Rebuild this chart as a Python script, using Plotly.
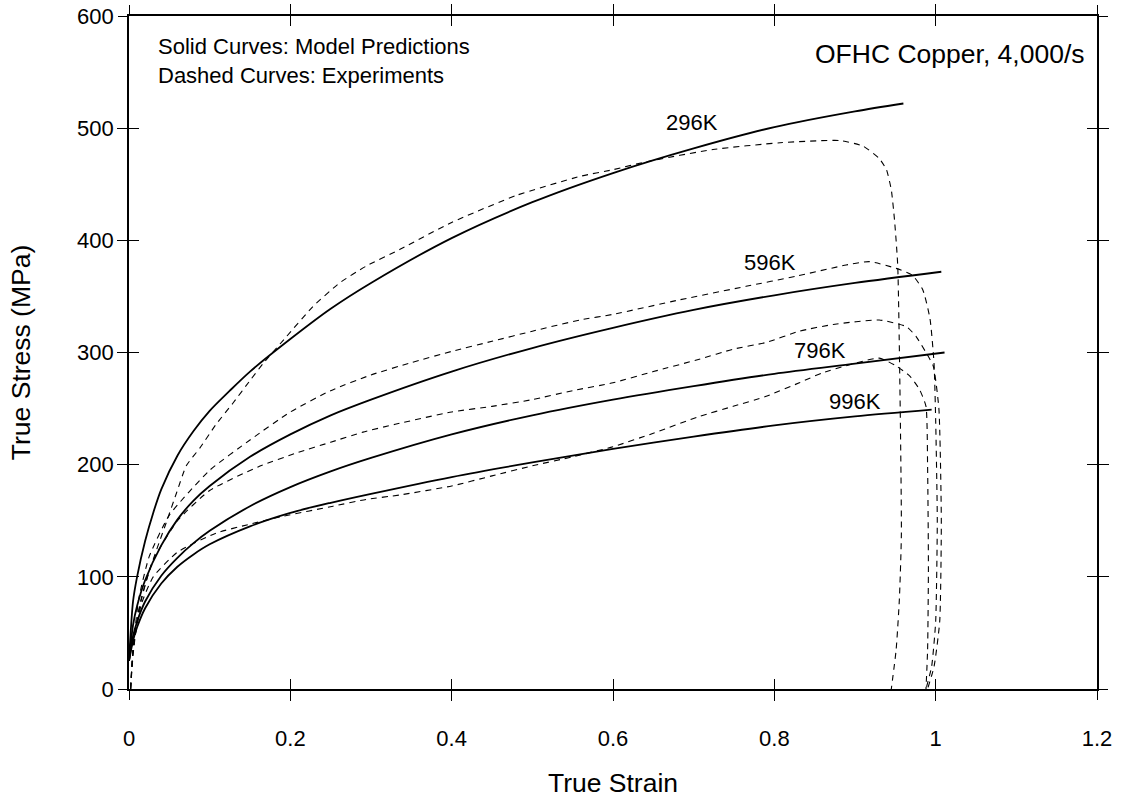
import plotly.graph_objects as go

# ---------------- data ----------------
solid_296_x = [0.0, 0.005, 0.01, 0.02, 0.03, 0.04, 0.06, 0.08, 0.1, 0.125, 0.15, 0.2, 0.25, 0.3, 0.4, 0.5, 0.6, 0.7, 0.8, 0.9, 0.96]
solid_296_y = [25, 78, 100, 132, 157, 178, 208, 230, 248, 266, 283, 312, 339, 362, 402, 434, 460, 482, 501, 515, 522]

solid_596_x = [0.0, 0.005, 0.01, 0.02, 0.04, 0.06, 0.08, 0.1, 0.15, 0.2, 0.25, 0.3, 0.4, 0.5, 0.6, 0.7, 0.8, 0.9, 1.007]
solid_596_y = [25, 57, 74, 97, 128, 151, 168, 181, 207, 227, 244, 258, 283, 304, 322, 338, 351, 362, 372]

solid_796_x = [0.0, 0.005, 0.01, 0.02, 0.04, 0.06, 0.08, 0.1, 0.15, 0.2, 0.25, 0.3, 0.4, 0.5, 0.6, 0.7, 0.8, 0.9, 1.011]
solid_796_y = [25, 47, 60, 78, 101, 117, 130, 141, 163, 180, 194, 206, 227, 244, 258, 270, 281, 290, 300]

solid_996_x = [0.0, 0.005, 0.01, 0.02, 0.04, 0.06, 0.08, 0.1, 0.15, 0.2, 0.25, 0.3, 0.4, 0.5, 0.6, 0.7, 0.8, 0.9, 0.995]
solid_996_y = [25, 43, 55, 72, 94, 109, 120, 129, 145, 157, 166, 174, 189, 202, 214, 225, 235, 243, 249]

dash_296_x = [0.002, 0.005, 0.012, 0.025, 0.046, 0.059, 0.071, 0.088, 0.108, 0.129, 0.15, 0.166, 0.195, 0.228, 0.261, 0.294, 0.336, 0.4, 0.48, 0.559, 0.6, 0.641, 0.724, 0.807, 0.881, 0.91, 0.93, 0.939, 0.945, 0.949, 0.953, 0.9575, 0.955, 0.951, 0.945]
dash_296_y = [0, 30, 70, 105, 148, 175, 199, 215, 236, 255, 275, 290, 314, 341, 362, 377, 392, 416, 440, 457, 463, 470, 481, 487, 489, 484, 473, 463, 445, 418, 377, 139, 80, 35, 0]

dash_596_x = [0.002, 0.005, 0.012, 0.025, 0.05, 0.1, 0.15, 0.2, 0.25, 0.3, 0.35, 0.4, 0.45, 0.5, 0.559, 0.6, 0.683, 0.765, 0.827, 0.889, 0.918, 0.951, 0.971, 0.984, 0.993, 0.998, 1.0, 1.002, 1.0, 0.995, 0.988]
dash_596_y = [0, 35, 80, 118, 155, 195, 222, 247, 266, 280, 291, 301, 310, 319, 329, 334, 347, 359, 368, 378, 381, 375, 369, 356, 330, 290, 240, 150, 60, 20, 0]

dash_796_x = [0.002, 0.005, 0.015, 0.03, 0.06, 0.1, 0.16, 0.21, 0.25, 0.29, 0.33, 0.4, 0.45, 0.5, 0.55, 0.6, 0.65, 0.707, 0.749, 0.79, 0.831, 0.873, 0.93, 0.964, 0.976, 0.988, 0.997, 1.004, 1.007, 1.005, 0.998, 0.99]
dash_796_y = [0, 35, 80, 115, 150, 177, 198, 211, 220, 229, 236, 247, 252, 258, 266, 273, 283, 294, 303, 309, 319, 325, 329, 323, 314, 300, 288, 250, 150, 60, 20, 0]

dash_996_x = [0.002, 0.005, 0.015, 0.03, 0.06, 0.108, 0.15, 0.191, 0.253, 0.294, 0.336, 0.4, 0.45, 0.5, 0.55, 0.6, 0.65, 0.707, 0.749, 0.79, 0.831, 0.86, 0.93, 0.951, 0.968, 0.98, 0.988, 0.99, 0.991, 0.99, 0.988]
dash_996_y = [0, 35, 75, 100, 122, 139, 147, 154, 163, 169, 173, 181, 190, 199, 207, 216, 228, 243, 252, 261, 273, 282, 295, 288, 279, 267, 252, 198, 109, 35, 0]

temp_labels = ["296K", "596K", "796K", "996K"]
label_x = [0.698, 0.795, 0.856, 0.900]
label_y = [505, 380, 302, 256]

x_ticks = [0, 0.2, 0.4, 0.6, 0.8, 1, 1.2]
x_tick_text = ["0", "0.2", "0.4", "0.6", "0.8", "1", "1.2"]
y_ticks = [0, 100, 200, 300, 400, 500, 600]

FONT = "Liberation Sans, Arial, Helvetica, sans-serif"

fig = go.Figure()

solids = [(solid_296_x, solid_296_y), (solid_596_x, solid_596_y),
          (solid_796_x, solid_796_y), (solid_996_x, solid_996_y)]
dashes = [(dash_296_x, dash_296_y), (dash_596_x, dash_596_y),
          (dash_796_x, dash_796_y), (dash_996_x, dash_996_y)]

for name, (xs, ys) in zip(temp_labels, solids):
    fig.add_trace(go.Scatter(x=xs, y=ys, mode="lines", name=name + " model",
                             line=dict(color="black", width=1.8, shape="spline", smoothing=0.8),
                             showlegend=False, hoverinfo="skip"))
for name, (xs, ys) in zip(temp_labels, dashes):
    fig.add_trace(go.Scatter(x=xs, y=ys, mode="lines", name=name + " experiment",
                             line=dict(color="black", width=1.1, dash="6px,5px", shape="spline", smoothing=0.5),
                             showlegend=False, hoverinfo="skip"))

# invisible trace to activate overlay axes (outer half of crossing tick marks)
fig.add_trace(go.Scatter(x=[0], y=[0], xaxis="x2", yaxis="y2", mode="markers",
                         marker=dict(opacity=0), showlegend=False, hoverinfo="skip"))

for t, lx, ly in zip(temp_labels, label_x, label_y):
    fig.add_annotation(x=lx, y=ly, text=t, showarrow=False, xref="x", yref="y",
                       font=dict(family=FONT, size=22, color="black"))

fig.add_annotation(x=0.0276, y=0.9324, xref="paper", yref="paper", xanchor="left", yanchor="middle",
                   align="left", text="Solid Curves: Model Predictions<br>Dashed Curves: Experiments",
                   showarrow=False, font=dict(family=FONT, size=22, color="black"))
fig.add_annotation(x=0.9894, y=0.944, xref="paper", yref="paper", xanchor="right", yanchor="middle",
                   text="OFHC Copper, 4,000/s", showarrow=False,
                   font=dict(family=FONT, size=26.5, color="black"))

tick_common = dict(showgrid=False, zeroline=False, tickcolor="black", tickwidth=1.3, ticklen=10,
                   automargin=False)

# minor ticks (outer half of the crossing ticks), nudged by a sub-pixel amount
x_minor = [v + 1e-5 for v in x_ticks]
y_minor = [v + 5e-3 for v in y_ticks]

fig.update_layout(
    width=1128, height=800,
    margin=dict(l=129, r=31, t=16, b=111, autoexpand=False),
    paper_bgcolor="white", plot_bgcolor="white",
    font=dict(family=FONT, size=22, color="black"),
    xaxis=dict(range=[0, 1.2], tickvals=x_ticks, ticktext=x_tick_text, showline=True, mirror="ticks",
               linecolor="black", linewidth=1.6, ticks="inside", ticklabelstandoff=29,
               minor=dict(tickmode="array", tickvals=x_minor, ticks="outside", ticklen=10,
                          tickwidth=1.3, tickcolor="black", showgrid=False),
               title=dict(text="True Strain", font=dict(size=26.5), standoff=23), **tick_common),
    yaxis=dict(range=[0, 600], tickvals=y_ticks, showline=True, mirror="ticks", ticks="inside",
               linecolor="black", linewidth=1.6, ticklabelstandoff=9,
               minor=dict(tickmode="array", tickvals=y_minor, ticks="outside", ticklen=10,
                          tickwidth=1.3, tickcolor="black", showgrid=False),
               title=dict(text="True Stress (MPa)", font=dict(size=26.5), standoff=39), **tick_common),
    xaxis2=dict(range=[0, 1.2], tickvals=x_ticks, overlaying="x", anchor="y2", side="bottom",
                showline=False, mirror="ticks", ticks="outside", showticklabels=False, **tick_common),
    yaxis2=dict(range=[0, 600], tickvals=y_ticks, overlaying="y", anchor="x2", side="left",
                showline=False, mirror="ticks", ticks="outside", showticklabels=False, **tick_common),
)

fig.write_html("out.html")
